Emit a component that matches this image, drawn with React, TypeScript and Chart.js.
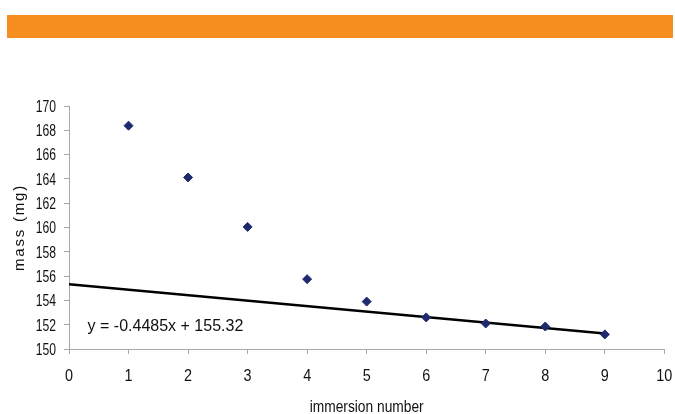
import React, { useEffect, useRef } from "react";
import { Chart, registerables } from "chart.js";

Chart.register(...registerables);

const immersion = [1, 2, 3, 4, 5, 6, 7, 8, 9];
const mass = [168.38, 164.12, 160.05, 155.75, 153.9, 152.6, 152.1, 151.85, 151.2];
const trendSlope = -0.4485;
const trendIntercept = 155.32;
const trendRange = [0, 9];
const equationLabel = "y = -0.4485x + 155.32";
const equationAt = { x: 1.62, y: 151.99 };
const xTitle = "immersion number";
const yTitle = "mass (mg)";

const FONT = "'Liberation Sans', Arial, sans-serif";
const TEXT = "#111";

export default function App() {
  const ref = useRef<HTMLCanvasElement | null>(null);

  useEffect(() => {
    document.body.style.margin = "0";
    const canvas = ref.current;
    if (!canvas) return;

    const textPlugin = {
      id: "customText",
      afterDraw(chart: any) {
        const { ctx, scales, chartArea } = chart;
        const xs = scales.x;
        const ys = scales.y;
        ctx.save();
        ctx.fillStyle = TEXT;

        // y tick labels (condensed)
        ctx.font = `16px ${FONT}`;
        ctx.textAlign = "right";
        ctx.textBaseline = "alphabetic";
        ys.ticks.forEach((t: any) => {
          const py = ys.getPixelForValue(t.value);
          ctx.save();
          ctx.translate(chartArea.left - 13, py + 5.8);
          ctx.scale(0.76, 1);
          ctx.fillText(String(t.value), 0, 0);
          ctx.restore();
        });

        // x tick labels
        ctx.textAlign = "center";
        xs.ticks.forEach((t: any) => {
          const px = xs.getPixelForValue(t.value);
          ctx.save();
          ctx.translate(px, chartArea.bottom + 32);
          ctx.scale(0.9, 1);
          ctx.fillText(String(t.value), 0, 0);
          ctx.restore();
        });

        // x title
        ctx.save();
        ctx.translate((chartArea.left + chartArea.right) / 2, chartArea.bottom + 63);
        ctx.scale(0.86, 1);
        ctx.fillText(xTitle, 0, 0);
        ctx.restore();

        // y title (rotated, letter-spaced)
        ctx.save();
        ctx.font = `15px ${FONT}`;
        (ctx as any).letterSpacing = "1.8px";
        ctx.translate(24, (chartArea.top + chartArea.bottom) / 2);
        ctx.rotate(-Math.PI / 2);
        ctx.textAlign = "center";
        ctx.fillText(yTitle, 0, 0);
        ctx.restore();

        // equation
        ctx.font = `16px ${FONT}`;
        ctx.textAlign = "center";
        ctx.fillText(equationLabel, xs.getPixelForValue(equationAt.x), ys.getPixelForValue(equationAt.y) + 6);
        ctx.restore();
      },
    };

    const chart = new Chart(canvas, {
      type: "scatter",
      data: {
        datasets: [
          {
            type: "line",
            data: trendRange.map((x) => ({ x, y: trendSlope * x + trendIntercept })),
            borderColor: "#000",
            borderWidth: 2.5,
            pointRadius: 0,
            fill: false,
            order: 2,
          } as any,
          {
            data: immersion.map((x, i) => ({ x, y: mass[i] })),
            pointStyle: "rectRot",
            pointRadius: 4.5,
            backgroundColor: "#1F2A6E",
            borderColor: "#1F2A6E",
            borderWidth: 1,
            order: 1,
          },
        ],
      },
      options: {
        animation: false,
        responsive: false,
        maintainAspectRatio: false,
        layout: { padding: { top: 106, right: 10, left: 0, bottom: 0 } },
        plugins: { legend: { display: false }, tooltip: { enabled: false } },
        scales: {
          x: {
            type: "linear",
            min: 0,
            max: 10,
            ticks: { stepSize: 1, color: "rgba(0,0,0,0)", font: { family: FONT, size: 12 }, padding: 4 },
            grid: { drawOnChartArea: false, color: "#A8A8A8", tickLength: 5 },
            border: { color: "#A8A8A8" },
            title: { display: false },
            afterFit(scale: any) { scale.height = 65; },
          },
          y: {
            min: 150,
            max: 170,
            ticks: { stepSize: 2, color: "rgba(0,0,0,0)", font: { family: FONT, size: 12 }, padding: 5 },
            grid: { drawOnChartArea: false, color: "#A8A8A8", tickLength: 5 },
            border: { color: "#A8A8A8" },
            title: { display: false },
            afterFit(scale: any) { scale.width = 69; },
          },
        },
      },
      plugins: [textPlugin],
    });
    return () => chart.destroy();
  }, []);

  return (
    <div style={{ position: "relative", width: 675, height: 414, background: "#fff" }}>
      <div style={{ position: "absolute", left: 7, top: 15, width: 666, height: 23, background: "#F58E1F" }} />
      <canvas ref={ref} width={675} height={414} style={{ position: "absolute", left: 0, top: 0 }} />
    </div>
  );
}
